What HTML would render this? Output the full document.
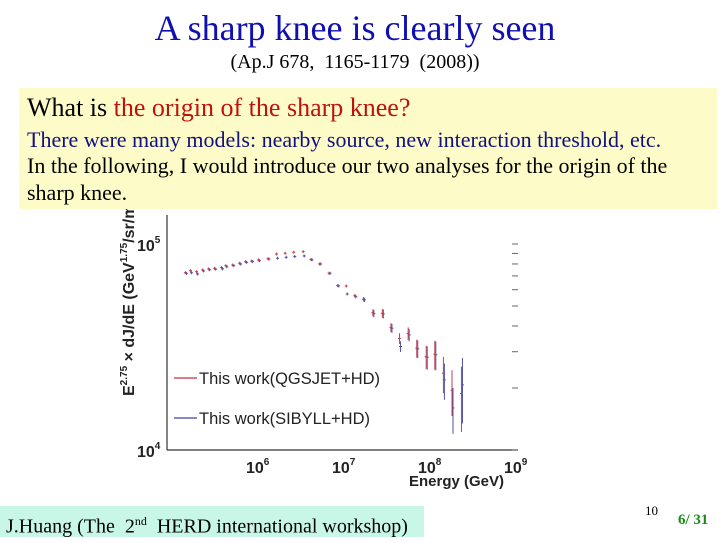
<!DOCTYPE html>
<html><head><meta charset="utf-8">
<style>
body{margin:0;width:720px;height:540px;overflow:hidden;background:#fff;font-family:"Liberation Serif",serif;position:relative}
.abs{position:absolute}
</style></head>
<body>
<div class="abs" style="left:0;width:710px;top:7px;text-align:center;font-size:36px;color:#1010b0">A sharp knee is clearly seen</div>
<div class="abs" style="left:0;width:710px;top:51px;text-align:center;font-size:20px;color:#000">(Ap.J 678,&nbsp; 1165-1179&nbsp; (2008))</div>

<svg class="abs" style="left:0;top:0" width="720" height="540" id="chart"></svg>

<div class="abs" style="left:19px;top:88px;width:698px;height:121px;background:#fdfcc8">
  <div style="position:absolute;left:8px;top:5px;font-size:26px;color:#000;white-space:nowrap">What is <span style="color:#c01010">the origin of the sharp knee?</span></div>
  <div style="position:absolute;left:8px;top:39px;font-size:22px;color:#101080;white-space:nowrap">There were many models: nearby source, new interaction threshold, etc.</div>
  <div style="position:absolute;left:8px;top:64px;font-size:22px;line-height:27px;color:#000;width:685px">In the following, I would introduce our two analyses for the origin of the sharp knee.</div>
</div>

<div class="abs" style="left:0;top:506px;width:424px;height:31px;background:#c8f7e8;font-size:20px;line-height:31px;padding-left:6px;box-sizing:border-box;white-space:nowrap">J.Huang (The&nbsp; 2<sup style="font-size:12px">nd</sup>&nbsp; HERD international workshop)</div>
<div class="abs" style="left:645px;top:503px;font-size:13px">10</div>
<div class="abs" style="left:678px;top:512px;font-size:15px;font-weight:bold;color:#1a8a1a">6/ 31</div>

<script>
const logE = [5.15,5.21,5.28,5.35,5.42,5.49,5.57,5.62,5.70,5.78,5.85,5.92,6.00,6.11,6.21,6.31,6.41,6.52,6.61,6.71,6.82,6.92,7.02,7.12,7.22,7.33,7.44,7.54,7.64,7.74,7.84,7.95,8.05,8.15,8.25,8.36];
const fluxQGS = [7.26e4,7.42e4,7.34e4,7.48e4,7.57e4,7.62e4,7.68e4,7.85e4,7.91e4,8.06e4,8.20e4,8.26e4,8.36e4,8.48e4,8.94e4,9.02e4,9.12e4,9.18e4,8.41e4,8.00e4,7.21e4,6.28e4,6.25e4,5.61e4,5.39e4,4.64e4,4.61e4,3.93e4,3.48e4,3.68e4,3.12e4,2.84e4,2.92e4,2.36e4,1.95e4,1.88e4];
const fluxSIB = [7.20e4,7.25e4,7.15e4,7.40e4,7.50e4,7.55e4,7.58e4,7.75e4,7.85e4,8.00e4,8.15e4,8.22e4,8.30e4,8.45e4,8.53e4,8.62e4,8.69e4,8.75e4,8.38e4,8.00e4,7.21e4,6.26e4,5.72e4,5.55e4,5.36e4,4.60e4,4.58e4,3.90e4,3.18e4,3.62e4,3.10e4,2.82e4,2.90e4,2.19e4,1.60e4,2.07e4];
const relErr = [0.005,0.005,0.005,0.005,0.005,0.005,0.005,0.005,0.005,0.005,0.005,0.005,0.005,0.006,0.006,0.006,0.007,0.007,0.008,0.01,0.012,0.015,0.015,0.02,0.025,0.04,0.05,0.05,0.06,0.07,0.1,0.13,0.16,0.2,0.25,0.35];
const xTickExp = [6,7,8,9];
const yTickExp = [4,5];

const svg = document.getElementById('chart');
const NS = 'http://www.w3.org/2000/svg';
const X0=167, X1=518, Y0=450;
const xScale = le => 259 + (le-6)*86;
const yScale = f => Y0 - (Math.log10(f)-4)*206;
function mk(tag, attrs){const e=document.createElementNS(NS,tag);for(const k in attrs)e.setAttribute(k,attrs[k]);svg.appendChild(e);return e;}

const ax=mk('line',{x1:X0,y1:Y0,x2:X1,y2:Y0,stroke:'#333','stroke-width':1.2});


const ay=mk('line',{x1:X0,y1:215,x2:X0,y2:Y0,stroke:'#333','stroke-width':1.2});



for(let d=4;d<=5;d++){for(let m=1;m<=9;m++){const f=m*Math.pow(10,d);const y=yScale(f);if(y<215||y>Y0)continue;
 const t=mk('line',{x1:512,y1:y,x2:518,y2:y,stroke:'#666','stroke-width':1});
 
 }}

xTickExp.forEach(e=>{const x=xScale(e);
 const t=mk('text',{x:x-13,y:473,'font-family':'Liberation Sans,sans-serif','font-size':16,'font-weight':'bold',fill:'#222'});
 t.textContent='10';
 const s=mk('tspan',{dy:-8,'font-size':10});s.textContent=e;t.appendChild(s);
 
 });
yTickExp.forEach(e=>{const y=yScale(Math.pow(10,e));
 const t=mk('text',{x:137,y:y+7,'font-family':'Liberation Sans,sans-serif','font-size':16,'font-weight':'bold',fill:'#222'});
 t.textContent='10';
 const s=mk('tspan',{dy:-8,'font-size':10});s.textContent=e;t.appendChild(s);
 
 });

const xt=mk('text',{x:409,y:486,'font-family':'Liberation Sans,sans-serif','font-size':15,'font-weight':'bold',fill:'#222'});
xt.textContent='Energy (GeV)';



const yt=mk('text',{x:0,y:0,transform:'translate(134,396) rotate(-90)','font-family':'Liberation Sans,sans-serif','font-size':16,'font-weight':'bold',fill:'#222'});
yt.innerHTML='E<tspan dy="-7" font-size="10">2.75</tspan><tspan dy="7"> × dJ/dE (GeV</tspan><tspan dy="-7" font-size="10">1.75</tspan><tspan dy="7">/sr/m</tspan>';



function series(flux,color,off,name){
 logE.forEach((le,i)=>{const x=xScale(le)+off, f=flux[i], e=relErr[i];
  const y1=yScale(f*(1+e)), y2=yScale(f*(1-e));
  const l=mk('line',{x1:x,y1:Math.min(y1,yScale(f)-1.5),x2:x,y2:Math.max(y2,yScale(f)+1.5),stroke:color,'stroke-width':1});
  
  
  const c=mk('line',{x1:x-1.5,y1:yScale(f),x2:x+1.5,y2:yScale(f),stroke:color,'stroke-width':1});
  
  
 });
}
series(fluxSIB,'#5050a8',0.5,'sibyll');
series(fluxQGS,'#c04050',-0.5,'qgsjet');

[['#d05060','This work(QGSJET+HD)',378,'legend-qgsjet'],['#6060b0','This work(SIBYLL+HD)',418,'legend-sibyll']].forEach(d=>{
 const l=mk('line',{x1:174,y1:d[2],x2:197,y2:d[2],stroke:d[0],'stroke-width':1.5});
 
 
 const t=mk('text',{x:199,y:d[2]+6,'font-family':'Liberation Sans,sans-serif','font-size':16.5,fill:'#222'});
 t.textContent=d[1];
 
 
});
</script>
</body></html>
